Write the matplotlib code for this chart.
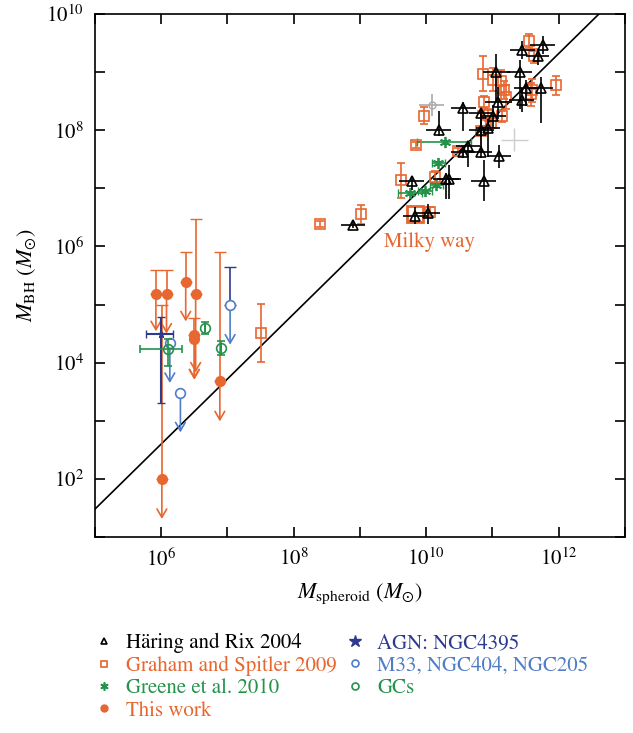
import numpy as np
import matplotlib
matplotlib.use("Agg")
import matplotlib.pyplot as plt
from matplotlib.lines import Line2D
from matplotlib.ticker import LogLocator, NullLocator, FuncFormatter

plt.rcParams['font.family'] = 'STIXGeneral'
plt.rcParams['mathtext.fontset'] = 'stix'

# =========================
# colours
# =========================
orange = '#E8662F'
green = '#23934B'
navy = '#2D3A8E'
lblue = '#4F7DC6'

# =========================
# data (log10 values)
# =========================
# Haring & Rix 2004
hr_logm = [11.76, 11.45, 11.68, 11.06, 11.41, 11.73, 11.51, 11.44, 11.09, 10.56, 10.82, 11.01, 10.19,
           10.93, 10.83, 10.63, 10.56, 10.82, 11.10, 9.78, 10.30, 10.35, 10.87, 9.83, 10.03, 8.89]
hr_logbh = [9.47, 9.38, 9.27, 9.01, 9.01, 8.72, 8.72, 8.52, 8.49, 8.38, 8.29, 8.24, 8.00,
            8.04, 8.01, 7.72, 7.63, 7.62, 7.55, 7.12, 7.16, 7.16, 7.12, 6.53, 6.58, 6.37]
hr_xerr = [0.19, 0.19, 0.18, 0.21, 0.19, 0.18, 0.18, 0.19, 0.2, 0.19, 0.18, 0.2, 0.19,
           0.18, 0.19, 0.18, 0.18, 0.18, 0.18, 0.19, 0.2, 0.18, 0.19, 0.18, 0.18, 0.18]
hr_ylo = [0.15, 0.15, 0.15, 0.5, 0.65, 0.6, 0.3, 0.2, 0.3, 0.4, 0.4, 0.2, 0.1,
          0.5, 0.3, 0.35, 0.1, 0.1, 0.2, 0.15, 0.35, 0.35, 0.34, 0.15, 0.2, 0.05]
hr_yhi = [0.15, 0.15, 0.13, 0.3, 0.2, 0.2, 0.15, 0.2, 0.25, 0.1, 0.1, 0.2, 0.33,
          0.15, 0.3, 0.1, 0.1, 0.1, 0.2, 0.1, 0.1, 0.25, 0.37, 0.15, 0.15, 0.05]

# Graham & Spitler 2009
gs_logm = [11.55, 11.62, 10.85, 11.01, 11.13, 11.17, 11.20, 11.59, 11.96, 9.97, 10.87, 10.93,
           11.15, 10.83, 10.98, 9.85, 10.48, 9.62, 10.13, 10.05, 9.02, 8.40, 7.51, 11.58]
gs_logbh = [9.54, 9.28, 8.97, 8.87, 8.84, 8.69, 8.57, 8.69, 8.77, 8.25, 8.49, 8.26,
            8.24, 7.98, 8.13, 7.74, 7.65, 7.14, 7.20, 6.60, 6.55, 6.39, 4.51, 8.62]
gs_yerr = [0.12, 0.12, 0.3, 0.2, 0.2, 0.15, 0.2, 0.2, 0.17, 0.15, 0.1, 0.1,
           0.1, 0.35, 0.1, 0.05, 0.05, 0.3, 0.1, 0.08, 0.17, 0.05, 0.5, 0.2]
mw_logm = [9.83]
mw_logbh = [6.55]

# Greene et al. 2010
gr_logm = [10.28, 10.18, 9.76, 9.98, 10.15]
gr_logbh = [7.80, 7.43, 6.92, 6.95, 7.05]
gr_xlo = [0.42, 0.1, 0.18, 0.1, 0.1]
gr_xhi = [0.39, 0.1, 0.18, 0.1, 0.1]

# grey points
grey_logm = [10.08]
grey_logbh = [8.44]
lgrey_logm = [11.33]
lgrey_logbh = [7.84]

# This work (upper limits)
tw_logm = [5.92, 6.08, 6.37, 6.52, 6.50, 6.50, 6.885, 6.01]
tw_logbh = [5.18, 5.18, 5.39, 5.18, 4.47, 4.40, 3.69, 1.99]
tw_up = [5.59, 5.59, 5.90, 6.48, 4.76, 4.40, 5.90, 4.99]
tw_arrow = [4.54, 4.50, 4.71, 3.83, 3.71, 3.71, 2.99, 1.31]

# M33, NGC404, NGC205
bl_logm = [7.04, 6.13, 6.29]
bl_logbh = [5.00, 4.34, 3.47]
bl_up = [5.65, 4.34, 3.47]
bl_arrow = [4.31, 3.65, 2.80]

# AGN NGC4395
agn_logm = [6.00]
agn_logbh = [4.50]
agn_xlo, agn_xhi = [0.23], [0.18]
agn_ylo, agn_yhi = [1.20], [0.29]

# GCs
gc_logm = [6.66, 6.90, 6.11]
gc_logbh = [4.60, 4.26, 4.24]
gc_xlo = [0.0, 0.0, 0.43]
gc_xhi = [0.0, 0.0, 0.21]
gc_ylo = [0.1, 0.12, 0.30]
gc_yhi = [0.1, 0.12, 0.16]

# fit: log M_BH = 8.20 + 1.12 log(M / 1e11)
fit_a, fit_b = 8.20, 1.12


def lin(v):
    return 10 ** np.asarray(v, dtype=float)


def aerr(lv, lo, hi):
    v = lin(lv)
    return [v - lin(np.asarray(lv) - np.asarray(lo)), lin(np.asarray(lv) + np.asarray(hi)) - v]


fig = plt.figure(figsize=(6.33, 7.33), dpi=100)
ax = fig.add_axes([0.150, 0.2674, 0.8373, 0.7135])
ax.set_xscale('log')
ax.set_yscale('log')
ax.set_xlim(1e5, 1e13)
ax.set_ylim(1e1, 1e10)

# fit line
xx = np.array([1e5, 1e13])
ax.plot(xx, 10 ** (fit_a + fit_b * (np.log10(xx) - 11)), color='black', lw=1.2, zorder=2)

# grey points
ax.errorbar(lin(grey_logm), lin(grey_logbh), xerr=aerr(grey_logm, [0.19], [0.19]),
            yerr=aerr(grey_logbh, [0.19], [0.19]), fmt='o', ms=5, mfc='none', mec='#aaaaaa',
            ecolor='#aaaaaa', elinewidth=1.2, capsize=0)
ax.errorbar(lin(lgrey_logm), lin(lgrey_logbh), xerr=aerr(lgrey_logm, [0.2], [0.2]),
            yerr=aerr(lgrey_logbh, [0.19], [0.19]), fmt='none', ecolor='#cccccc',
            elinewidth=1.0, capsize=0)

# Haring & Rix
ax.errorbar(lin(hr_logm), lin(hr_logbh), xerr=aerr(hr_logm, hr_xerr, hr_xerr),
            yerr=aerr(hr_logbh, hr_ylo, hr_yhi), fmt='^', ms=7, mfc='none', mec='black',
            mew=1.2, ecolor='black', elinewidth=1.2, capsize=0, zorder=4)

# Graham & Spitler
ax.errorbar(lin(gs_logm), lin(gs_logbh), yerr=aerr(gs_logbh, gs_yerr, gs_yerr), fmt='s', ms=7,
            mfc='none', mec=orange, mew=1.2, ecolor=orange, elinewidth=1.2, capsize=3, zorder=3)
ax.plot(lin(mw_logm), lin(mw_logbh), 's', ms=12, mfc='none', mec=orange, mew=2, zorder=3)

# Greene
ax.errorbar(lin(gr_logm), lin(gr_logbh), xerr=aerr(gr_logm, gr_xlo, gr_xhi), fmt='none',
            ecolor=green, elinewidth=1.2, capsize=3, zorder=3)
ax.plot(lin(gr_logm), lin(gr_logbh), ls='none', marker=(6, 2, 0), ms=8, mec=green, mew=1.3, zorder=3)

# This work
for lm, lb, up, ar in zip(tw_logm, tw_logbh, tw_up, tw_arrow):
    x, y = 10 ** lm, 10 ** lb
    if up > lb:
        ax.errorbar([x], [y], yerr=[[0], [10 ** up - y]], fmt='none', ecolor=orange,
                    elinewidth=1.2, capsize=4, zorder=3)
    ax.annotate('', xy=(x, 10 ** ar), xytext=(x, y),
                arrowprops=dict(arrowstyle='->,head_length=0.6,head_width=0.35', color=orange,
                                lw=1.2, shrinkA=0, shrinkB=0), zorder=3)
ax.plot(lin(tw_logm), lin(tw_logbh), 'o', ms=7, color=orange, zorder=5)

# AGN NGC4395
ax.errorbar(lin(agn_logm), lin(agn_logbh), xerr=aerr(agn_logm, agn_xlo, agn_xhi),
            yerr=aerr(agn_logbh, agn_ylo, agn_yhi), fmt='*', ms=5, color=navy,
            elinewidth=1.5, capsize=3, zorder=4)

# M33, NGC404, NGC205
for lm, lb, up, ar in zip(bl_logm, bl_logbh, bl_up, bl_arrow):
    x, y = 10 ** lm, 10 ** lb
    if up > lb:
        ax.errorbar([x], [y], yerr=[[0], [10 ** up - y]], fmt='none', ecolor=navy,
                    elinewidth=1.2, capsize=4, zorder=3)
    ax.annotate('', xy=(x, 10 ** ar), xytext=(x, y),
                arrowprops=dict(arrowstyle='->,head_length=0.6,head_width=0.35', color=lblue,
                                lw=1.2, shrinkA=0, shrinkB=0), zorder=3)
ax.plot(lin(bl_logm), lin(bl_logbh), 'o', ms=7, mfc='white', mec=lblue, mew=1.2, zorder=5)

# GCs
ax.errorbar(lin(gc_logm), lin(gc_logbh), xerr=aerr(gc_logm, gc_xlo, gc_xhi),
            yerr=aerr(gc_logbh, gc_ylo, gc_yhi), fmt='o', ms=7, mfc='none', mec=green, mew=1.2,
            ecolor=green, elinewidth=1.2, capsize=3, zorder=5)

ax.text(10 ** 9.37, 10 ** 6.08, 'Milky way', color=orange, fontsize=15, va='center')

# axes styling
fmt = FuncFormatter(lambda v, p: '$10^{%d}$' % round(np.log10(v)) if round(np.log10(v)) % 2 == 0 else '')
for axis in (ax.xaxis, ax.yaxis):
    axis.set_major_locator(LogLocator(base=10, numticks=20))
    axis.set_minor_locator(NullLocator())
    axis.set_major_formatter(fmt)
ax.tick_params(which='major', direction='in', top=True, right=True, length=7, width=1.2,
               labelsize=15, pad=8)
for s in ax.spines.values():
    s.set_linewidth(1.2)
ax.set_xlabel(r'$M_{\mathrm{spheroid}}\ (M_{\odot})$', fontsize=16, labelpad=8)
ax.set_ylabel(r'$M_{\mathrm{BH}}\ (M_{\odot})$', fontsize=16, labelpad=6)

# legend
handles = [
    Line2D([], [], ls='none', marker='^', ms=5, mfc='none', mec='black', mew=1.2),
    Line2D([], [], ls='none', marker='s', ms=5, mfc='none', mec=orange, mew=1.2),
    Line2D([], [], ls='none', marker=(6, 2, 0), ms=6, mec=green, mew=1.2),
    Line2D([], [], ls='none', marker='o', ms=5, color=orange),
    Line2D([], [], ls='none', marker='*', ms=9, color=navy),
    Line2D([], [], ls='none', marker='o', ms=5, mfc='none', mec=lblue, mew=1.2),
    Line2D([], [], ls='none', marker='o', ms=5, mfc='none', mec=green, mew=1.2),
]
labels = ['Häring and Rix 2004', 'Graham and Spitler 2009', 'Greene et al. 2010', 'This work',
          'AGN: NGC4395', 'M33, NGC404, NGC205', 'GCs']
colors = ['black', orange, green, orange, navy, lblue, green]
leg = fig.legend(handles, labels, ncol=2, loc='upper left', bbox_to_anchor=(0.115, 0.162),
                 frameon=False, fontsize=15, handlelength=1.2, handletextpad=0.45,
                 columnspacing=0.3, labelspacing=0.12)
for t, c in zip(leg.get_texts(), colors):
    t.set_color(c)

fig.savefig('out.png', dpi=100)
